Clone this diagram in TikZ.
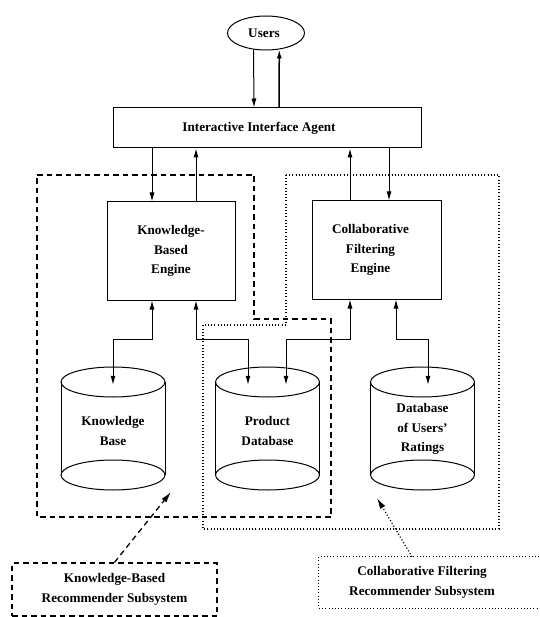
\documentclass[tikz,border=0pt]{standalone}
\usepackage{fontspec}
\setmainfont{Liberation Serif}
\usetikzlibrary{arrows.meta,calc,shapes.geometric}
\begin{document}
\begin{tikzpicture}[x=1pt,y=-1pt,
  font=\fontsize{13.2}{19.5}\selectfont\bfseries,
  box/.style={draw,line width=1pt,inner sep=0pt,align=center},
  cylbox/.style={inner sep=0pt,align=center,minimum width=104},
  arr/.style={line width=1pt,-{Latex[length=9pt,width=5pt]}},
  arrtwo/.style={line width=1pt,{Latex[length=9pt,width=5pt]}-{Latex[length=9pt,width=5pt]}},
  dashedline/.style={line width=1.3pt,dash pattern=on 5.5pt off 4pt},
  dottedline/.style={line width=1.3pt,dash pattern=on 1pt off 2.2pt},
  cyl/.pic={
    \draw[line width=1pt] (-52,-46.5) -- (-52,46.5) (52,-46.5) -- (52,46.5);
    \draw[line width=1pt] (0,-46.5) ellipse [x radius=52, y radius=15];
    \draw[line width=1pt] (0,46.5) ellipse [x radius=52, y radius=15];
  }]
\useasboundingbox (0,0) rectangle (539,617);

% subsystem outlines
\draw[dashedline] (37,175) -- (254,175) -- (254,319) -- (331,319) -- (331,517) -- (37,517) -- cycle;
\draw[dottedline] (286,175) -- (499,175) -- (499,529) -- (203,529) -- (203,325) -- (286,325) -- cycle;

% nodes
\node[draw,ellipse,line width=1pt,inner sep=0pt,minimum width=77,minimum height=34] (users) at (266,33) {\hspace*{-4pt}Users};
\node[box,minimum width=308,minimum height=40] (agent) at (267,128) {\hspace*{-16pt}Interactive Interface Agent};
\node[box,minimum width=128,minimum height=98] (kbe) at (171,251) {Knowledge-\\Based\\Engine};
\node[box,minimum width=129,minimum height=98] (cfe) at (376.5,250) {\hspace*{-12pt}Collaborative\\\hspace*{-12pt}Filtering\\\hspace*{-12pt}Engine};

\pic at (113,428.5) {cyl};
\pic at (267.5,428.5) {cyl};
\pic at (422.5,428.5) {cyl};
\node[cylbox,minimum height=92] (kbase) at (113,431) {Knowledge\\Base};
\node[cylbox,minimum height=92] (pdb) at (267.5,431) {Product\\Database};
\node[cylbox,minimum height=88] (rdb) at (422.5,429) {Database\\of Users'\\Ratings};

% users <-> agent
\coordinate (u1) at (254,0);
\coordinate (u2) at (279,0);
\draw[arr] (users.-127) -- (u1 |- agent.north);
\draw[arr,line width=1.5pt] (u2 |- agent.north) -- (users.-51);

% agent <-> engines
\coordinate (k1) at ([xshift=-19pt]kbe.north);
\coordinate (k2) at ([xshift=25pt]kbe.north);
\coordinate (c1) at ([xshift=-26.5pt]cfe.north);
\coordinate (c2) at ([xshift=12.5pt]cfe.north);
\draw[arr] (k1 |- agent.south) -- (k1);
\draw[arr] (k2) -- (k2 |- agent.south);
\draw[arr] (c1) -- (c1 |- agent.south);
\draw[arr] (c2 |- agent.south) -- (c2);

% engines <-> databases
\draw[arrtwo] ([xshift=-19pt]kbe.south) -- ++(0,39) -| (kbase.north);
\draw[arrtwo] ([xshift=25pt]kbe.south) -- ++(0,39) -| ([xshift=-19.5pt]pdb.north);
\draw[arrtwo] ([xshift=-26.5pt]cfe.south) -- ++(0,40) -| ([xshift=18.5pt]pdb.north);
\draw[arrtwo] ([xshift=19.5pt]cfe.south) -- ++(0,40) -| ([xshift=5.5pt]rdb.north);

% labels
\node[draw,dashedline,minimum width=205,minimum height=53,align=center,inner sep=0pt] (kblab) at (114.5,589.5) {Knowledge-Based\\Recommender Subsystem};
\node[minimum width=206,minimum height=51,align=center,inner sep=0pt] (cflab) at (422,582.5) {Collaborative Filtering\\Recommender Subsystem};
\draw[dottedline] ([xshift=30pt]cflab.north east) -- (cflab.north west) -- (cflab.south west) -- ([xshift=30pt]cflab.south east);

\coordinate (kbpt) at (171,492);
\coordinate (cfpt) at (377,498);
\draw[dashedline,-{Latex[length=11pt,width=6pt]}] (kblab.north) -- (kbpt);
\draw[dottedline,-{Latex[length=11pt,width=6pt]}] ([xshift=-10pt]cflab.north) -- (cfpt);
\end{tikzpicture}
\end{document}
